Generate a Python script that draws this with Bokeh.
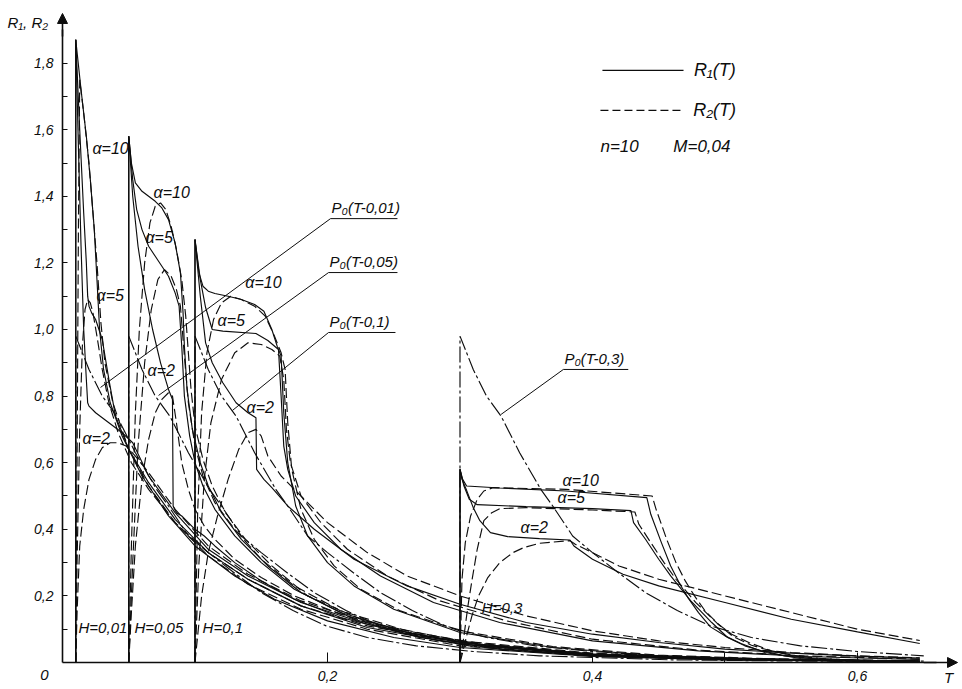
from bokeh.plotting import figure
from bokeh.models import Range1d, FixedTicker, CustomJSTickFormatter, Arrow, NormalHead
from bokeh.core.properties import value
from bokeh.embed import file_html
from bokeh.resources import INLINE

# ---------------- data (T, R) ----------------
# P0(t) shape, t = T - H
P0_t = [0.0, 0.0, 0.01, 0.02, 0.031, 0.045, 0.061, 0.07, 0.085, 0.1, 0.121, 0.14, 0.164, 0.189, 0.22, 0.257, 0.3, 0.35, 0.45, 0.55, 0.637]
P0_v = [0.0, 0.98, 0.88, 0.8, 0.74, 0.63, 0.52, 0.47, 0.38, 0.33, 0.265, 0.21, 0.156, 0.11, 0.075, 0.05, 0.033, 0.02, 0.008, 0.004, 0.002]
H_values = [0.01, 0.05, 0.1, 0.3]

# H = 0.01
T_h001_r1_a10 = [0.01, 0.01, 0.014, 0.018, 0.021, 0.024, 0.026, 0.028, 0.031, 0.036, 0.045, 0.06, 0.08, 0.1, 0.13, 0.16, 0.2, 0.25, 0.3, 0.4, 0.5, 0.647]
R_h001_r1_a10 = [0.0, 1.87, 1.72, 1.58, 1.45, 1.3, 1.15, 1.0, 0.88, 0.78, 0.68, 0.56, 0.44, 0.35, 0.26, 0.19, 0.125, 0.075, 0.045, 0.018, 0.008, 0.003]
T_h001_r2_a10 = [0.01, 0.011, 0.012, 0.013, 0.016, 0.02, 0.023, 0.026, 0.029, 0.032, 0.038, 0.05, 0.065, 0.085, 0.11, 0.14, 0.18, 0.23, 0.3, 0.4, 0.5, 0.647]
R_h001_r2_a10 = [0.0, 0.6, 1.3, 1.75, 1.65, 1.5, 1.35, 1.2, 1.02, 0.9, 0.78, 0.64, 0.53, 0.42, 0.32, 0.235, 0.16, 0.1, 0.05, 0.02, 0.009, 0.003]
T_h001_r1_a5 = [0.01, 0.013, 0.016, 0.018, 0.019, 0.02, 0.022, 0.025, 0.03, 0.035, 0.04, 0.05, 0.065, 0.085, 0.11, 0.14, 0.18, 0.23, 0.3, 0.4, 0.5, 0.647]
R_h001_r1_a5 = [1.87, 1.6, 1.35, 1.2, 1.1, 1.07, 1.05, 1.03, 0.97, 0.85, 0.74, 0.64, 0.54, 0.43, 0.33, 0.25, 0.17, 0.105, 0.055, 0.022, 0.01, 0.004]
T_h001_r2_a5 = [0.01, 0.011, 0.013, 0.015, 0.017, 0.019, 0.021, 0.023, 0.026, 0.03, 0.035, 0.042, 0.052, 0.065, 0.085, 0.11, 0.14, 0.18, 0.23, 0.3, 0.4, 0.5, 0.647]
R_h001_r2_a5 = [0.0, 0.3, 0.7, 0.95, 1.06, 1.09, 1.08, 1.05, 0.98, 0.88, 0.78, 0.69, 0.6, 0.52, 0.42, 0.33, 0.25, 0.17, 0.11, 0.06, 0.024, 0.01, 0.004]
T_h001_r1_a2 = [0.01, 0.012, 0.014, 0.016, 0.018, 0.019, 0.02, 0.025, 0.035, 0.045, 0.053, 0.065, 0.085, 0.11, 0.14, 0.18, 0.23, 0.3, 0.4, 0.5, 0.647]
R_h001_r1_a2 = [1.87, 1.55, 1.25, 1.0, 0.85, 0.78, 0.77, 0.75, 0.72, 0.69, 0.66, 0.56, 0.45, 0.34, 0.26, 0.18, 0.115, 0.06, 0.026, 0.012, 0.004]
T_h001_r2_a2 = [0.01, 0.011, 0.013, 0.016, 0.02, 0.025, 0.03, 0.036, 0.042, 0.048, 0.055, 0.065, 0.085, 0.11, 0.14, 0.18, 0.23, 0.3, 0.4, 0.5, 0.647]
R_h001_r2_a2 = [0.0, 0.15, 0.35, 0.46, 0.55, 0.61, 0.645, 0.66, 0.66, 0.65, 0.62, 0.57, 0.46, 0.35, 0.265, 0.185, 0.12, 0.065, 0.028, 0.013, 0.005]

# H = 0.05
T_h005_r1_a10 = [0.05, 0.05, 0.052, 0.055, 0.06, 0.065, 0.07, 0.075, 0.08, 0.085, 0.089, 0.091, 0.092, 0.094, 0.098, 0.104, 0.11, 0.12, 0.135, 0.155, 0.18, 0.22, 0.27, 0.33, 0.4, 0.5, 0.647]
R_h005_r1_a10 = [0.0, 1.58, 1.5, 1.44, 1.415, 1.4, 1.385, 1.365, 1.33, 1.26, 1.17, 1.05, 0.95, 0.82, 0.7, 0.6, 0.53, 0.45, 0.37, 0.29, 0.21, 0.13, 0.075, 0.04, 0.02, 0.009, 0.003]
T_h005_r2_a10 = [0.05, 0.052, 0.055, 0.058, 0.062, 0.066, 0.07, 0.074, 0.078, 0.082, 0.086, 0.09, 0.093, 0.095, 0.097, 0.1, 0.106, 0.113, 0.123, 0.138, 0.158, 0.185, 0.225, 0.27, 0.33, 0.4, 0.5, 0.647]
R_h005_r2_a10 = [0.0, 0.35, 0.75, 1.0, 1.2, 1.32, 1.37, 1.38, 1.36, 1.31, 1.24, 1.15, 1.04, 0.93, 0.82, 0.71, 0.61, 0.53, 0.45, 0.37, 0.29, 0.2, 0.13, 0.08, 0.042, 0.02, 0.009, 0.003]
T_h005_r1_a5 = [0.05, 0.053, 0.056, 0.06, 0.065, 0.07, 0.075, 0.08, 0.085, 0.088, 0.09, 0.092, 0.096, 0.1, 0.106, 0.115, 0.13, 0.15, 0.175, 0.21, 0.26, 0.32, 0.4, 0.5, 0.647]
R_h005_r1_a5 = [1.58, 1.45, 1.36, 1.3, 1.25, 1.22, 1.19, 1.16, 1.11, 1.07, 0.95, 0.8, 0.68, 0.6, 0.53, 0.46, 0.38, 0.3, 0.22, 0.15, 0.09, 0.05, 0.022, 0.01, 0.003]
T_h005_r2_a5 = [0.05, 0.053, 0.057, 0.062, 0.067, 0.072, 0.077, 0.082, 0.086, 0.089, 0.092, 0.095, 0.1, 0.106, 0.115, 0.13, 0.15, 0.175, 0.21, 0.26, 0.32, 0.4, 0.5, 0.647]
R_h005_r2_a5 = [0.0, 0.3, 0.65, 0.9, 1.06, 1.15, 1.18, 1.16, 1.12, 1.07, 0.92, 0.78, 0.65, 0.56, 0.48, 0.4, 0.31, 0.23, 0.155, 0.095, 0.052, 0.023, 0.01, 0.003]
T_h005_r1_a2 = [0.05, 0.053, 0.057, 0.062, 0.068, 0.074, 0.08, 0.083, 0.0835, 0.086, 0.09, 0.095, 0.1, 0.107, 0.115, 0.13, 0.15, 0.175, 0.21, 0.26, 0.32, 0.4, 0.5, 0.647]
R_h005_r1_a2 = [1.58, 1.4, 1.25, 1.12, 1.0, 0.9, 0.82, 0.79, 0.47, 0.45, 0.44, 0.42, 0.4, 0.38, 0.35, 0.3, 0.245, 0.19, 0.135, 0.085, 0.05, 0.024, 0.011, 0.004]
T_h005_r2_a2 = [0.05, 0.052, 0.055, 0.06, 0.065, 0.07, 0.075, 0.08, 0.083, 0.086, 0.09, 0.095, 0.1, 0.107, 0.115, 0.13, 0.15, 0.175, 0.21, 0.26, 0.32, 0.4, 0.5, 0.647]
R_h005_r2_a2 = [0.0, 0.15, 0.35, 0.55, 0.67, 0.75, 0.79, 0.81, 0.8, 0.72, 0.6, 0.52, 0.46, 0.41, 0.37, 0.31, 0.255, 0.2, 0.145, 0.09, 0.055, 0.026, 0.012, 0.004]

# H = 0.1
T_h01_r1_a10 = [0.1, 0.1, 0.103, 0.106, 0.11, 0.115, 0.125, 0.135, 0.145, 0.152, 0.158, 0.162, 0.165, 0.167, 0.17, 0.176, 0.185, 0.2, 0.22, 0.25, 0.3, 0.37, 0.45, 0.55, 0.647]
R_h01_r1_a10 = [0.0, 1.27, 1.17, 1.13, 1.115, 1.108, 1.1, 1.09, 1.075, 1.055, 1.0, 0.95, 0.92, 0.75, 0.6, 0.47, 0.38, 0.3, 0.23, 0.16, 0.09, 0.045, 0.02, 0.008, 0.003]
T_h01_r2_a10 = [0.1, 0.102, 0.105, 0.109, 0.114, 0.12, 0.127, 0.135, 0.145, 0.153, 0.16, 0.165, 0.168, 0.17, 0.173, 0.18, 0.19, 0.205, 0.225, 0.255, 0.3, 0.37, 0.45, 0.55, 0.647]
R_h01_r2_a10 = [0.0, 0.45, 0.75, 0.93, 1.03, 1.08, 1.1, 1.09, 1.07, 1.04, 0.98, 0.93, 0.88, 0.72, 0.58, 0.46, 0.37, 0.29, 0.22, 0.155, 0.095, 0.048, 0.022, 0.009, 0.003]
T_h01_r1_a5 = [0.1, 0.104, 0.108, 0.113, 0.121, 0.146, 0.155, 0.163, 0.165, 0.167, 0.17, 0.176, 0.19, 0.21, 0.24, 0.28, 0.33, 0.4, 0.48, 0.56, 0.647]
R_h01_r1_a5 = [1.27, 1.15, 1.066, 1.0, 0.995, 0.988, 0.967, 0.94, 0.8, 0.65, 0.58, 0.5, 0.42, 0.34, 0.26, 0.18, 0.12, 0.065, 0.035, 0.018, 0.009]
T_h01_r2_a5 = [0.1, 0.103, 0.107, 0.112, 0.12, 0.13, 0.14, 0.15, 0.158, 0.164, 0.167, 0.169, 0.172, 0.18, 0.195, 0.215, 0.245, 0.285, 0.335, 0.4, 0.48, 0.56, 0.647]
R_h01_r2_a5 = [0.0, 0.3, 0.55, 0.72, 0.85, 0.93, 0.96, 0.955, 0.94, 0.92, 0.85, 0.7, 0.6, 0.5, 0.42, 0.34, 0.26, 0.185, 0.125, 0.07, 0.037, 0.02, 0.01]
T_h01_r1_a2 = [0.1, 0.104, 0.108, 0.113, 0.121, 0.131, 0.14, 0.146, 0.1465, 0.152, 0.158, 0.17, 0.19, 0.22, 0.26, 0.3, 0.35, 0.4, 0.45, 0.5, 0.55, 0.6, 0.647]
R_h01_r1_a2 = [1.27, 1.1, 0.96, 0.9, 0.84, 0.78, 0.75, 0.735, 0.58, 0.55, 0.525, 0.47, 0.4, 0.31, 0.23, 0.175, 0.12, 0.085, 0.06, 0.04, 0.028, 0.019, 0.013]
T_h01_r2_a2 = [0.1, 0.105, 0.11, 0.117, 0.125, 0.133, 0.14, 0.146, 0.15, 0.155, 0.165, 0.18, 0.2, 0.23, 0.26, 0.3, 0.35, 0.4, 0.45, 0.5, 0.55, 0.6, 0.647]
R_h01_r2_a2 = [0.0, 0.2, 0.33, 0.44, 0.55, 0.64, 0.69, 0.7, 0.68, 0.62, 0.56, 0.5, 0.42, 0.33, 0.26, 0.2, 0.14, 0.095, 0.065, 0.045, 0.03, 0.02, 0.014]

# H = 0.3
T_h03_r1_a10 = [0.3, 0.3, 0.302, 0.305, 0.33, 0.38, 0.441, 0.444, 0.452, 0.459, 0.466, 0.472, 0.48, 0.489, 0.5, 0.512, 0.53, 0.557, 0.6, 0.647]
R_h03_r1_a10 = [0.0, 0.58, 0.55, 0.53, 0.524, 0.515, 0.495, 0.445, 0.36, 0.29, 0.235, 0.195, 0.15, 0.107, 0.08, 0.057, 0.03, 0.012, 0.005, 0.002]
T_h03_r2_a10 = [0.3, 0.3015, 0.304, 0.308, 0.313, 0.318, 0.325, 0.38, 0.445, 0.448, 0.456, 0.463, 0.47, 0.477, 0.485, 0.495, 0.505, 0.518, 0.535, 0.56, 0.6, 0.647]
R_h03_r2_a10 = [0.0, 0.25, 0.36, 0.44, 0.49, 0.515, 0.525, 0.52, 0.5, 0.46, 0.37, 0.3, 0.245, 0.2, 0.155, 0.115, 0.085, 0.06, 0.035, 0.015, 0.006, 0.002]
T_h03_r1_a5 = [0.3, 0.303, 0.307, 0.313, 0.35, 0.4, 0.429, 0.431, 0.44, 0.45, 0.459, 0.474, 0.49, 0.502, 0.515, 0.527, 0.545, 0.57, 0.61, 0.647]
R_h03_r1_a5 = [0.58, 0.53, 0.49, 0.474, 0.468, 0.462, 0.456, 0.42, 0.37, 0.31, 0.26, 0.186, 0.12, 0.075, 0.05, 0.036, 0.02, 0.01, 0.004, 0.002]
T_h03_r2_a5 = [0.3, 0.303, 0.306, 0.309, 0.313, 0.318, 0.324, 0.33, 0.35, 0.4, 0.432, 0.435, 0.444, 0.454, 0.463, 0.478, 0.494, 0.506, 0.52, 0.533, 0.55, 0.575, 0.615, 0.647]
R_h03_r2_a5 = [0.0, 0.08, 0.17, 0.246, 0.34, 0.426, 0.45, 0.462, 0.465, 0.458, 0.452, 0.415, 0.36, 0.3, 0.25, 0.18, 0.118, 0.078, 0.052, 0.037, 0.021, 0.011, 0.005, 0.002]
T_h03_r1_a2 = [0.3, 0.3015, 0.305, 0.31, 0.315, 0.323, 0.336, 0.36, 0.383, 0.386, 0.4, 0.423, 0.45, 0.5, 0.55, 0.6, 0.647]
R_h03_r1_a2 = [0.58, 0.55, 0.517, 0.465, 0.426, 0.39, 0.378, 0.372, 0.368, 0.35, 0.31, 0.265, 0.23, 0.18, 0.13, 0.092, 0.057]
T_h03_r2_a2 = [0.3, 0.302, 0.305, 0.309, 0.314, 0.321, 0.33, 0.34, 0.348, 0.36, 0.383, 0.387, 0.4, 0.42, 0.45, 0.5, 0.55, 0.6, 0.647]
R_h03_r2_a2 = [0.0, 0.03, 0.08, 0.14, 0.2, 0.255, 0.3, 0.33, 0.345, 0.358, 0.366, 0.355, 0.33, 0.29, 0.25, 0.2, 0.15, 0.1, 0.066]

# labels
alpha_text = ["α=10", "α=5", "α=2", "α=10", "α=5", "α=2", "α=10", "α=5", "α=2", "α=10", "α=5", "α=2"]
alpha_T = [0.0226, 0.0257, 0.0151, 0.0687, 0.0626, 0.0642, 0.138, 0.117, 0.1389, 0.3774, 0.3736, 0.3457]
alpha_R = [1.543, 1.102, 0.673, 1.411, 1.276, 0.877, 1.14, 1.027, 0.766, 0.547, 0.495, 0.405]

h_text = ["H=0,01", "H=0,05", "H=0,1", "H=0,3"]
h_T = [0.0121, 0.0543, 0.1057, 0.3165]
h_R = [0.105, 0.105, 0.105, 0.165]

p0_text = ["P₀(T-0,01)", "P₀(T-0,05)", "P₀(T-0,1)", "P₀(T-0,3)"]
p0_under_T0 = [0.2023, 0.2008, 0.2008, 0.378]
p0_under_T1 = [0.2528, 0.2528, 0.2513, 0.427]
p0_under_R = [1.333, 1.171, 0.991, 0.880]
p0_lead_T = [0.0287, 0.0725, 0.1283, 0.331]
p0_lead_R = [0.826, 0.802, 0.757, 0.745]

legend_text = ["R₁(T)", "R₂(T)"]
legend_T0 = [0.4075, 0.406]
legend_T1 = [0.4687, 0.468]
legend_R = [1.778, 1.658]
param_text = ["n=10", "M=0,04"]
param_T = [0.406, 0.461]
param_R = [1.55, 1.55]

axis_text = ["R₁, R₂", "0", "T"]
axis_text_T = [-0.0415, -0.0136, 0.6687]
axis_text_R = [1.922, -0.039, -0.046]

y_ticks = [0.1, 0.2, 0.3, 0.4, 0.5, 0.6, 0.7, 0.8, 0.9, 1.0, 1.1, 1.2, 1.3, 1.4, 1.5, 1.6, 1.7, 1.8]
x_ticks = [0.1, 0.2, 0.3, 0.4, 0.5, 0.6]

# ---------------- figure ----------------
FONT = "Liberation Sans"
INK = "#0d0d0d"

p = figure(width=960, height=687, x_range=Range1d(-0.04679, 0.67774), y_range=Range1d(-0.07508, 1.98799),
           output_backend="svg", toolbar_location=None,
           min_border_left=0, min_border_right=0, min_border_top=0, min_border_bottom=0)
p.outline_line_color = None
p.grid.visible = False
p.background_fill_color = "white"

fmt = CustomJSTickFormatter(code="""
const k = Math.round(tick * 10);
if (k % 2 != 0) { return ""; }
return (k / 10).toFixed(1).replace(".", ",");
""")
for ax in (p.xaxis[0], p.yaxis[0]):
    ax.fixed_location = 0
    ax.formatter = fmt
    ax.axis_line_color = INK
    ax.major_tick_line_color = INK
    ax.minor_tick_line_color = None
    ax.major_tick_out = 0
    ax.major_label_text_font = FONT
    ax.major_label_text_font_style = "italic"
    ax.major_label_text_font_size = "14px"
    ax.major_label_text_color = INK
p.yaxis[0].ticker = FixedTicker(ticks=y_ticks)
p.xaxis[0].ticker = FixedTicker(ticks=x_ticks)
p.yaxis[0].bounds = (0, 1.9)
p.xaxis[0].bounds = (0, 0.66)
p.yaxis[0].axis_line_width = 1.6
p.xaxis[0].axis_line_width = 1.3
p.yaxis[0].major_tick_in = 5
p.xaxis[0].major_tick_in = 10
p.yaxis[0].major_label_standoff = 9
p.xaxis[0].major_label_standoff = 9

DASH = "10 4"
DASHDOT = "16 3 3 3"
LW = 1.15

curves = [
    (T_h001_r1_a10, R_h001_r1_a10, "solid"), (T_h001_r2_a10, R_h001_r2_a10, DASH),
    (T_h001_r1_a5, R_h001_r1_a5, "solid"), (T_h001_r2_a5, R_h001_r2_a5, DASH),
    (T_h001_r1_a2, R_h001_r1_a2, "solid"), (T_h001_r2_a2, R_h001_r2_a2, DASH),
    (T_h005_r1_a10, R_h005_r1_a10, "solid"), (T_h005_r2_a10, R_h005_r2_a10, DASH),
    (T_h005_r1_a5, R_h005_r1_a5, "solid"), (T_h005_r2_a5, R_h005_r2_a5, DASH),
    (T_h005_r1_a2, R_h005_r1_a2, "solid"), (T_h005_r2_a2, R_h005_r2_a2, DASH),
    (T_h01_r1_a10, R_h01_r1_a10, "solid"), (T_h01_r2_a10, R_h01_r2_a10, DASH),
    (T_h01_r1_a5, R_h01_r1_a5, "solid"), (T_h01_r2_a5, R_h01_r2_a5, DASH),
    (T_h01_r1_a2, R_h01_r1_a2, "solid"), (T_h01_r2_a2, R_h01_r2_a2, DASH),
    (T_h03_r1_a10, R_h03_r1_a10, "solid"), (T_h03_r2_a10, R_h03_r2_a10, DASH),
    (T_h03_r1_a5, R_h03_r1_a5, "solid"), (T_h03_r2_a5, R_h03_r2_a5, DASH),
    (T_h03_r1_a2, R_h03_r1_a2, "solid"), (T_h03_r2_a2, R_h03_r2_a2, DASH),
]
for xs, ys, dash in curves:
    p.line(xs, ys, line_color=INK, line_width=LW, line_dash=dash)

# vertical jumps of R1 at T = H (solid)
p.segment(x0=H_values, y0=[0, 0, 0, 0], x1=H_values,
          y1=[R_h001_r1_a10[1], R_h005_r1_a10[1], R_h01_r1_a10[1], R_h03_r1_a10[1]],
          line_color=INK, line_width=1.3)

# P0(T-H) dash-dot curves
for H in H_values:
    ts = [H + t for t in P0_t if H + t <= 0.65]
    vs = [v for t, v in zip(P0_t, P0_v) if H + t <= 0.65]
    p.line(ts, vs, line_color=INK, line_width=LW, line_dash=DASHDOT)

# P0 label underlines & leaders
p.segment(x0=p0_under_T0, y0=p0_under_R, x1=p0_under_T1, y1=p0_under_R, line_color=INK, line_width=1.0)
p.segment(x0=p0_under_T0, y0=p0_under_R, x1=p0_lead_T, y1=p0_lead_R, line_color=INK, line_width=1.0)
p.text(x=[t + 0.0008 for t in p0_under_T0], y=[r + 0.008 for r in p0_under_R], text=p0_text,
       text_font=value(FONT), text_font_style="italic", text_font_size="15px",
       text_baseline="bottom", text_align="left", text_color=INK)

# alpha labels
p.text(x=alpha_T, y=alpha_R, text=alpha_text, text_font=value(FONT), text_font_style="italic",
       text_font_size="16px", text_baseline="middle", text_align="left", text_color=INK)
# H labels
p.text(x=h_T, y=h_R, text=h_text, text_font=value(FONT), text_font_style="italic",
       text_font_size="15px", text_baseline="middle", text_align="left", text_color=INK)

# legend
p.segment(x0=[legend_T0[0]], y0=[legend_R[0]], x1=[legend_T1[0]], y1=[legend_R[0]], line_color=INK, line_width=1.2)
p.segment(x0=[legend_T0[1]], y0=[legend_R[1]], x1=[legend_T1[1]], y1=[legend_R[1]], line_color=INK,
          line_width=1.2, line_dash="8 4")
p.text(x=[t + 0.008 for t in legend_T1], y=legend_R, text=legend_text, text_font=value(FONT),
       text_font_style="italic", text_font_size="18px", text_baseline="middle", text_align="left", text_color=INK)
p.text(x=param_T, y=param_R, text=param_text, text_font=value(FONT), text_font_style="italic",
       text_font_size="17px", text_baseline="middle", text_align="left", text_color=INK)

# axis names and origin label
p.text(x=axis_text_T, y=axis_text_R, text=axis_text, text_font=value(FONT), text_font_style="italic",
       text_font_size="15px", text_baseline="middle", text_align=["left", "center", "center"], text_color=INK)

# axis arrows
p.add_layout(Arrow(end=NormalHead(size=10, fill_color=INK, line_color=INK), x_start=0, y_start=1.88,
                   x_end=0, y_end=1.949, line_color=INK, line_width=1.6))
p.add_layout(Arrow(end=NormalHead(size=10, fill_color=INK, line_color=INK), x_start=0.65, y_start=0,
                   x_end=0.6755, y_end=0, line_color=INK, line_width=1.3))

open("out.html", "w").write(file_html(p, INLINE))
